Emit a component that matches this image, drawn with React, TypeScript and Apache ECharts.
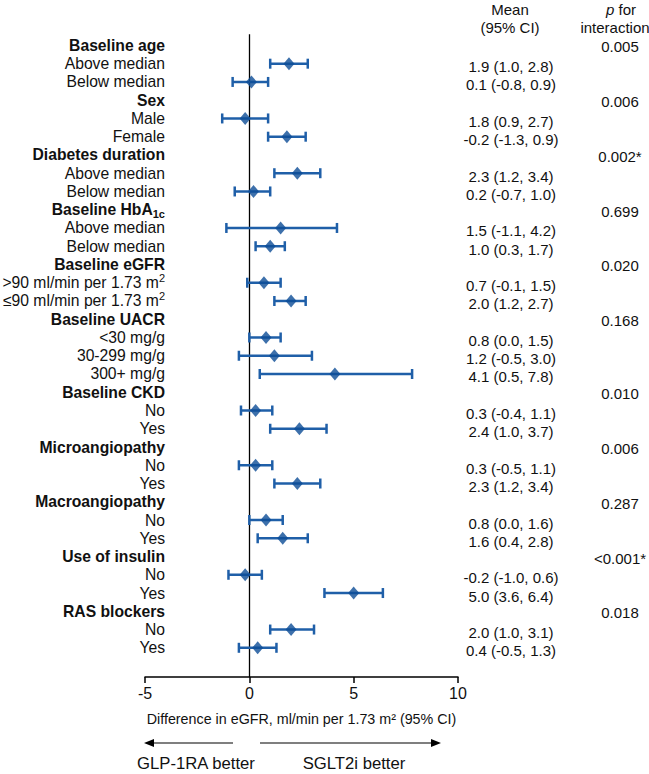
import React, { useEffect, useRef } from "react";
import * as echarts from "echarts";

const FONT = "'Liberation Sans', Arial, sans-serif";

const rowLabels = [
  "Baseline age", "Above median", "Below median",
  "Sex", "Male", "Female",
  "Diabetes duration", "Above median", "Below median",
  "Baseline HbA", "Above median", "Below median",
  "Baseline eGFR", ">90 ml/min per 1.73 m", "≤90 ml/min per 1.73 m",
  "Baseline UACR", "<30 mg/g", "30-299 mg/g", "300+ mg/g",
  "Baseline CKD", "No", "Yes",
  "Microangiopathy", "No", "Yes",
  "Macroangiopathy", "No", "Yes",
  "Use of insulin", "No", "Yes",
  "RAS blockers", "No", "Yes",
];
const headerRows = [0, 3, 6, 9, 12, 15, 19, 22, 25, 28, 31];
const labelSubscripts: Record<number, string> = { 9: "1c" };
const labelSuperscripts: Record<number, string> = { 13: "2", 14: "2" };

const means = [null, 1.9, 0.1, null, -0.2, 1.8, null, 2.3, 0.2, null, 1.5, 1.0, null, 0.7, 2.0, null, 0.8, 1.2, 4.1, null, 0.3, 2.4, null, 0.3, 2.3, null, 0.8, 1.6, null, -0.2, 5.0, null, 2.0, 0.4];
const lowers = [null, 1.0, -0.8, null, -1.3, 0.9, null, 1.2, -0.7, null, -1.1, 0.3, null, -0.1, 1.2, null, 0.0, -0.5, 0.5, null, -0.4, 1.0, null, -0.5, 1.2, null, 0.0, 0.4, null, -1.0, 3.6, null, 1.0, -0.5];
const uppers = [null, 2.8, 0.9, null, 0.9, 2.7, null, 3.4, 1.0, null, 4.2, 1.7, null, 1.5, 2.7, null, 1.5, 3.0, 7.8, null, 1.1, 3.7, null, 1.1, 3.4, null, 1.6, 2.8, null, 0.6, 6.4, null, 3.1, 1.3];
const meanLabels = ["", "1.9 (1.0, 2.8)", "0.1 (-0.8, 0.9)", "", "1.8 (0.9, 2.7)", "-0.2 (-1.3, 0.9)", "", "2.3 (1.2, 3.4)", "0.2 (-0.7, 1.0)", "", "1.5 (-1.1, 4.2)", "1.0 (0.3, 1.7)", "", "0.7 (-0.1, 1.5)", "2.0 (1.2, 2.7)", "", "0.8 (0.0, 1.5)", "1.2 (-0.5, 3.0)", "4.1 (0.5, 7.8)", "", "0.3 (-0.4, 1.1)", "2.4 (1.0, 3.7)", "", "0.3 (-0.5, 1.1)", "2.3 (1.2, 3.4)", "", "0.8 (0.0, 1.6)", "1.6 (0.4, 2.8)", "", "-0.2 (-1.0, 0.6)", "5.0 (3.6, 6.4)", "", "2.0 (1.0, 3.1)", "0.4 (-0.5, 1.3)"];
const pValues = ["0.005", "", "", "0.006", "", "", "0.002*", "", "", "0.699", "", "", "0.020", "", "", "0.168", "", "", "", "0.010", "", "", "0.006", "", "", "0.287", "", "", "<0.001*", "", "", "0.018", "", ""];

const xTicks = { min: -5, max: 10, interval: 5 };
const axisTitle = "Difference in eGFR, ml/min per 1.73 m² (95% CI)";
const leftArrowLabel = "GLP-1RA better";
const rightArrowLabel = "SGLT2i better";

const CI_COLOR = "#1f5fa8";
const DIAMOND_COLOR = "#0d4c96";
const TEXT_COLOR = "#111";
const LABEL_SIZE = 15.7;
const DATA_SIZE = 15;

export default function App() {
  const ref = useRef<HTMLDivElement>(null);
  useEffect(() => {
    document.body.style.margin = "0";
    document.body.style.overflow = "hidden";
    const chart = echarts.init(ref.current!, null, { renderer: "svg" });

    const renderRow = (params: any, api: any) => {
      const i = api.value(0);
      const p = api.coord([0, i]);
      const y = p[1];
      const isHeader = headerRows.includes(i);
      const weight = isHeader ? "bold" : "normal";
      let text = `{m|${rowLabels[i]}}`;
      if (labelSubscripts[i]) text += `{sub|${labelSubscripts[i]}}`;
      if (labelSuperscripts[i]) text += `{sup|${labelSuperscripts[i]}}`;
      const children: any[] = [
        {
          type: "text",
          x: 165,
          y,
          style: {
            text,
            align: "right",
            verticalAlign: "middle",
            fill: TEXT_COLOR,
            rich: {
              m: { fontSize: LABEL_SIZE, fontWeight: weight, fontFamily: FONT, lineHeight: 20, fill: TEXT_COLOR, verticalAlign: "middle" },
              sub: { fontSize: 11, fontWeight: weight, fontFamily: FONT, lineHeight: 11, fill: TEXT_COLOR, verticalAlign: "bottom" },
              sup: { fontSize: 11, fontWeight: weight, fontFamily: FONT, lineHeight: 11, fill: TEXT_COLOR, verticalAlign: "top" },
            },
          },
        },
      ];
      if (meanLabels[i]) {
        children.push({
          type: "text",
          x: 511,
          y: y + 3,
          style: { text: meanLabels[i], align: "center", verticalAlign: "middle", fill: TEXT_COLOR, fontSize: DATA_SIZE, fontFamily: FONT },
        });
      }
      if (pValues[i]) {
        children.push({
          type: "text",
          x: 620,
          y: y + 1.5,
          style: { text: pValues[i], align: "center", verticalAlign: "middle", fill: TEXT_COLOR, fontSize: DATA_SIZE, fontFamily: FONT },
        });
      }
      if (means[i] !== null) {
        const lo = api.coord([lowers[i], i]);
        const hi = api.coord([uppers[i], i]);
        const lineStyle = { stroke: CI_COLOR, lineWidth: 2.5 };
        children.push(
          { type: "line", shape: { x1: lo[0], y1: y, x2: hi[0], y2: y }, style: lineStyle },
          { type: "line", shape: { x1: lo[0], y1: y - 5, x2: lo[0], y2: y + 5 }, style: lineStyle },
          { type: "line", shape: { x1: hi[0], y1: y - 5, x2: hi[0], y2: y + 5 }, style: lineStyle }
        );
      }
      return { type: "group", children };
    };

    const scatterData = means
      .map((m, i) => (m === null ? null : [m, i]))
      .filter((d) => d !== null);

    chart.setOption({
      animation: false,
      grid: { left: 145, right: 191, top: 34.3, bottom: 97, outerBoundsMode: "none" },
      xAxis: {
        type: "value",
        min: xTicks.min,
        max: xTicks.max,
        interval: xTicks.interval,
        axisLine: { show: true, onZero: false, lineStyle: { color: "#000", width: 1.5 } },
        axisTick: { show: true, inside: false, length: 6, lineStyle: { color: "#000", width: 1.5 } },
        axisLabel: { fontSize: 16, color: TEXT_COLOR, fontFamily: FONT, margin: 8 },
        splitLine: { show: false },
        name: axisTitle,
        nameLocation: "middle",
        nameGap: 35,
        nameTextStyle: { fontSize: 14.3, color: TEXT_COLOR, fontFamily: FONT },
      },
      yAxis: { type: "value", inverse: true, min: -0.61, max: 34.6, show: false },
      series: [
        {
          type: "custom",
          renderItem: renderRow,
          data: rowLabels.map((_, i) => [i]),
          encode: { y: 0 },
          clip: false,
          silent: true,
          z: 2,
        },
        {
          type: "scatter",
          data: scatterData,
          symbol: "diamond",
          symbolSize: [11, 13],
          itemStyle: { color: DIAMOND_COLOR },
          z: 3,
          markLine: {
            silent: true,
            symbol: "none",
            label: { show: false },
            lineStyle: { color: "#000", width: 1.3, type: "solid" },
            data: [{ xAxis: 0 }],
            z: 1,
          },
        },
      ],
      graphic: [
        { type: "text", x: 510, y: 9, style: { text: "Mean", align: "center", verticalAlign: "middle", fontSize: DATA_SIZE, fontFamily: FONT, fill: TEXT_COLOR } },
        { type: "text", x: 510, y: 27, style: { text: "(95% CI)", align: "center", verticalAlign: "middle", fontSize: DATA_SIZE, fontFamily: FONT, fill: TEXT_COLOR } },
        {
          type: "text", x: 621, y: 9,
          style: { text: "{i|p} for", align: "center", verticalAlign: "middle", fontSize: DATA_SIZE, fontFamily: FONT, fill: TEXT_COLOR,
            rich: { i: { fontStyle: "italic", fontSize: DATA_SIZE, fontFamily: FONT, fill: TEXT_COLOR } } },
        },
        { type: "text", x: 615, y: 27, style: { text: "interaction", align: "center", verticalAlign: "middle", fontSize: DATA_SIZE, fontFamily: FONT, fill: TEXT_COLOR } },
        { type: "line", shape: { x1: 150, y1: 743, x2: 233, y2: 743 }, style: { stroke: "#000", lineWidth: 1.2 } },
        { type: "polygon", shape: { points: [[144, 743], [154, 739], [154, 747]] }, style: { fill: "#000" } },
        { type: "line", shape: { x1: 260, y1: 743, x2: 436, y2: 743 }, style: { stroke: "#000", lineWidth: 1.2 } },
        { type: "polygon", shape: { points: [[441, 743], [431, 739], [431, 747]] }, style: { fill: "#000" } },
        { type: "text", x: 196, y: 763, style: { text: leftArrowLabel, align: "center", verticalAlign: "middle", fontSize: 16.7, fontFamily: FONT, fill: TEXT_COLOR } },
        { type: "text", x: 354, y: 763, style: { text: rightArrowLabel, align: "center", verticalAlign: "middle", fontSize: 16.7, fontFamily: FONT, fill: TEXT_COLOR } },
      ],
    });
    return () => chart.dispose();
  }, []);
  return <div ref={ref} style={{ width: 649, height: 774 }} />;
}
